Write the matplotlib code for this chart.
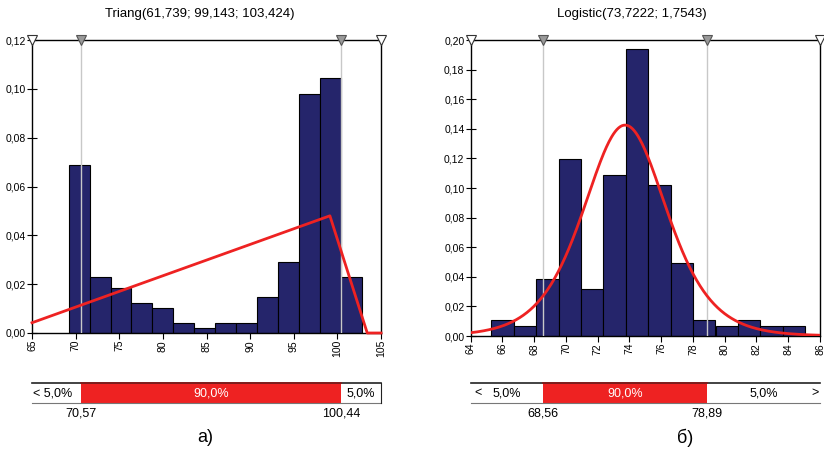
import numpy as np
import matplotlib;matplotlib.use('Agg');import matplotlib.pyplot as plt
from matplotlib.ticker import FuncFormatter

plt.rcParams['font.family']=['Liberation Sans','DejaVu Sans']

# --- data ---
# a) Triang fit
tri_title='Triang(61,739; 99,143; 103,424)'
tri_edges=[69.2,71.6,74.0,76.4,78.8,81.2,83.6,86.0,88.4,90.8,93.2,95.6,98.0,100.4]
tri_width=2.4
tri_heights=[0.0687,0.0229,0.0185,0.0124,0.0104,0.0041,0.0020,0.0041,0.0041,0.0146,0.0290,0.0980,0.1043,0.0229]
tri_line_x=[65,99.143,103.424,105]
tri_line_y=[0.0042,0.0480,0.0,0.0]
tri_p5,tri_p95=70.57,100.44
tri_xlim=(65,105);tri_ylim=(0,0.12)
tri_xticks=[65,70,75,80,85,90,95,100,105]
tri_yticks=[0,0.02,0.04,0.06,0.08,0.10,0.12]

# б) Logistic fit
log_title='Logistic(73,7222; 1,7543)'
log_mu,log_s=73.7222,1.7543
log_edges=[65.30,66.71,68.12,69.53,70.94,72.36,73.77,75.18,76.59,78.00,79.42,80.83,82.24,83.65]
log_width=1.41
log_heights=[0.0105,0.0069,0.0385,0.1198,0.0316,0.1090,0.1940,0.1021,0.0493,0.0105,0.0069,0.0105,0.0069,0.0069]
log_p5,log_p95=68.56,78.89
log_xlim=(64,86);log_ylim=(0,0.20)
log_xticks=list(range(64,87,2))
log_yticks=[0,0.02,0.04,0.06,0.08,0.10,0.12,0.14,0.16,0.18,0.20]

NAVY='#25256b';RED='#ee2222';GRAY='#c8c8c8'
comma=lambda fmt:FuncFormatter(lambda v,p:fmt.format(v).replace('.',','))

fig=plt.figure(figsize=(8.24,4.53),dpi=100)

def main_ax(rect,edges,width,heights,xlim,ylim,xticks,yticks,p5,p95):
    ax=fig.add_axes(rect)
    ax.bar(edges,heights,width=width,align='edge',color=NAVY,edgecolor='black',lw=0.8,zorder=2)
    for p in (p5,p95):ax.axvline(p,color=GRAY,lw=1,zorder=3)
    ax.set_xlim(*xlim);ax.set_ylim(*ylim)
    ax.set_xticks(xticks);ax.set_yticks(yticks)
    ax.xaxis.set_major_formatter(comma('{:g}'));ax.yaxis.set_major_formatter(comma('{:.2f}'))
    fp=dict(family=['Liberation Sans Narrow','Liberation Sans'],size=7.5)
    for t in ax.get_xticklabels():t.set_rotation(90);t.set_fontproperties(fp)
    for t in ax.get_yticklabels():t.set_fontproperties(fp)
    ax.tick_params(axis='y',direction='inout',length=7,width=0.8,pad=1)
    ax.tick_params(axis='x',direction='out',length=4,width=0.8,pad=1)
    for s in ax.spines.values():s.set_color('black');s.set_linewidth(1)
    ytop=ylim[1]
    ax.plot([xlim[0],xlim[1]],[ytop,ytop],ls='none',marker='v',ms=7,mfc='white',mec='#333333',mew=0.8,clip_on=False,zorder=5)
    ax.plot([p5,p95],[ytop,ytop],ls='none',marker='v',ms=7,mfc='#999999',mec='#555555',mew=0.8,clip_on=False,zorder=5)
    return ax

def pct_bar(rect,xlim,p5,p95,labels,right_edge):
    bx=fig.add_axes(rect)
    bx.set_xlim(*xlim);bx.set_ylim(0,1);bx.axis('off')
    bx.axvspan(p5,p95,color=RED,lw=0)
    bx.plot(xlim,[1,1],color='#222222',lw=1.2,clip_on=False)
    bx.plot([p5,p95],[1,1],color='#8b1a1a',lw=1.2,clip_on=False)
    bx.plot(xlim,[0,0],color='#777777',lw=0.8,clip_on=False)
    if right_edge:bx.plot([xlim[1],xlim[1]],[0,1],color='#222222',lw=0.8,clip_on=False)
    for x,s,ha,c in labels:bx.text(x,0.5,s,ha=ha,va='center',fontsize=9,color=c)
    for p in (p5,p95):
        bx.text(p,-0.55,'{:.2f}'.format(p).replace('.',','),ha='center',va='center',fontsize=9)
    return bx

# a)
ax1=main_ax([32/824,1-333/453,349/824,293/453],tri_edges,tri_width,tri_heights,tri_xlim,tri_ylim,tri_xticks,tri_yticks,tri_p5,tri_p95)
ax1.plot(tri_line_x,tri_line_y,color=RED,lw=2,zorder=4,clip_on=False)
pct_bar([32/824,1-403/453,349/824,20/453],tri_xlim,tri_p5,tri_p95,
        [(65.1,'< 5,0%','left','black'),((tri_p5+tri_p95)/2,'90,0%','center','white'),((tri_p95+105)/2,'5,0%','center','black')],True)
fig.text(200/824,1-14/453,tri_title,ha='center',va='center',fontsize=9.5)
fig.text(205/824,1-438/453,'a)',ha='center',va='center',fontsize=13)

# б)
ax2=main_ax([470.7/824,1-336/453,349.3/824,296/453],log_edges,log_width,log_heights,log_xlim,log_ylim,log_xticks,log_yticks,log_p5,log_p95)
xx=np.linspace(log_xlim[0],log_xlim[1],400);zz=np.exp(-(xx-log_mu)/log_s)
ax2.plot(xx,zz/(log_s*(1+zz)**2),color=RED,lw=2,zorder=4)
pct_bar([470.7/824,1-403/453,349.3/824,20/453],log_xlim,log_p5,log_p95,
        [(64.2,'<','left','black'),((64+log_p5)/2,'5,0%','center','black'),((log_p5+log_p95)/2,'90,0%','center','white'),
         ((log_p95+86)/2,'5,0%','center','black'),(85.9,'>','right','black')],False)
fig.text(632/824,1-14/453,log_title,ha='center',va='center',fontsize=9.5)
fig.text(685/824,1-438/453,'б)',ha='center',va='center',fontsize=13)

fig.savefig('out.png',dpi=100)
